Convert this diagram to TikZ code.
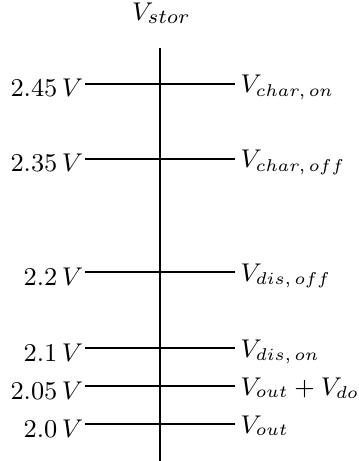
\documentclass[tikz,border=0pt]{standalone}
\begin{document}
\begin{tikzpicture}[x=0.3509pt,y=-0.3509pt,
  lbl/.style={inner sep=0pt,font=\fontsize{9.4pt}{11pt}\selectfont},
  lleft/.style={lbl,anchor=base east},
  lright/.style={lbl,anchor=base west,font=\fontsize{9.0pt}{11pt}\selectfont}]
\useasboundingbox (0,0) rectangle (359,461);
\node[lbl,anchor=base] (top) at (161.5,20.5) {$V_{stor}$};
\coordinate (vt) at (160,48);
\coordinate (vb) at (160,461);
\draw (vt) -- (vb);
% levels
\foreach \n/\y in {a/84,b/159,c/272,d/348,e/386,f/424}{
  \coordinate (l\n) at (85,\y);
  \coordinate (r\n) at (235,\y);
  \draw (l\n) -- (r\n);
}
\node[lleft] (ta) at ([xshift=-0.5pt,yshift=-13*0.3509pt]la) {$2.45\,V$};
\node[lleft] (tb) at ([xshift=-0.5pt,yshift=-13*0.3509pt]lb) {$2.35\,V$};
\node[lleft] (tc) at ([xshift=-0.5pt,yshift=-13*0.3509pt]lc) {$2.2\,V$};
\node[lleft] (td) at ([xshift=-0.5pt,yshift=-13*0.3509pt]ld) {$2.1\,V$};
\node[lleft] (te) at ([xshift=-0.5pt,yshift=-13*0.3509pt]le) {$2.05\,V$};
\node[lleft] (tf) at ([xshift=-0.5pt,yshift=-13*0.3509pt]lf) {$2.0\,V$};
\node[lright] (ua) at ([xshift=5*0.3509pt,yshift=-9*0.3509pt]ra) {$V_{char,\,on}$};
\node[lright] (ub) at ([xshift=5*0.3509pt,yshift=-9*0.3509pt]rb) {$V_{char,\,off}$};
\node[lright] (uc) at ([xshift=5*0.3509pt,yshift=-9*0.3509pt]rc) {$V_{dis,\,off}$};
\node[lright] (ud) at ([xshift=5*0.3509pt,yshift=-9*0.3509pt]rd) {$V_{dis,\,on}$};
\node[lright] (ue) at ([xshift=5*0.3509pt,yshift=-9*0.3509pt]re) {$V_{out}+V_{do}$};
\node[lright] (uf) at ([xshift=5*0.3509pt,yshift=-9*0.3509pt]rf) {$V_{out}$};
\end{tikzpicture}
\end{document}
